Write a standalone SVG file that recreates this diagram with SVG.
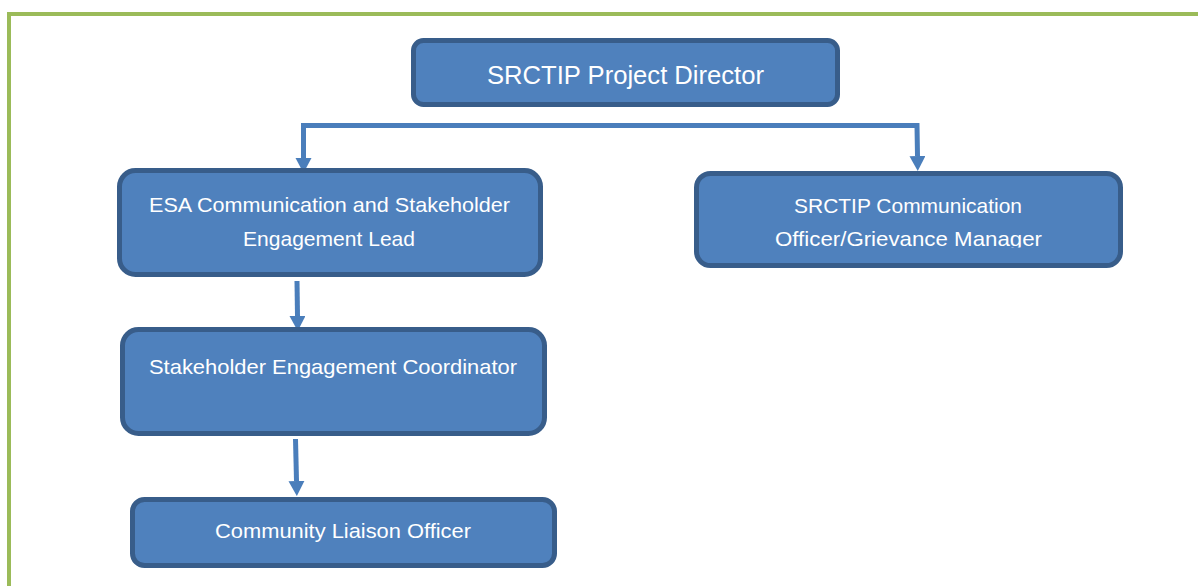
<svg xmlns="http://www.w3.org/2000/svg" width="1198" height="586" viewBox="0 0 1198 586">
<style>
.box{fill:#4F81BD;stroke:#385D8A;stroke-width:5}
.lbl{fill:#FFFFFF;font-family:"Liberation Sans",Arial,sans-serif;font-size:21px;text-anchor:middle}
.conn{stroke:#4A7EBB;stroke-width:5;fill:none}
</style>
<defs>
<marker id="ah" markerUnits="userSpaceOnUse" markerWidth="18" markerHeight="18" refX="0" refY="8" orient="auto">
<path d="M0,0 L15,8 L0,16 Z" fill="#4A7EBB"/>
</marker>
<clipPath id="clip3"><rect x="690" y="160" width="440" height="87.5"/></clipPath>
</defs>
<rect x="9" y="14" width="1300" height="700" fill="none" stroke="#9BBB59" stroke-width="4"/>
<g id="connectors">
<polyline class="conn" points="303.5,158 303.5,125.5 917,125.5 917.5,156" marker-end="url(#ah)"/>
<line class="conn" x1="303.5" y1="125.5" x2="303.5" y2="158" marker-end="url(#ah)"/>
<line class="conn" x1="297" y1="281" x2="297.5" y2="316" marker-end="url(#ah)"/>
<line class="conn" x1="295.5" y1="439" x2="296.5" y2="481" marker-end="url(#ah)"/>
</g>
<g id="node-director">
<rect class="box" x="413.5" y="40.5" width="424" height="64" rx="10"/>
<text class="lbl" x="625.5" y="83.5" style="font-size:25px" textLength="277" lengthAdjust="spacingAndGlyphs">SRCTIP Project Director</text>
</g>
<g id="node-esa">
<rect class="box" x="119.5" y="170.5" width="421" height="104" rx="16"/>
<text class="lbl" x="329.5" y="212" textLength="361" lengthAdjust="spacingAndGlyphs">ESA Communication and Stakeholder</text>
<text class="lbl" x="329" y="246" textLength="172" lengthAdjust="spacingAndGlyphs">Engagement Lead</text>
</g>
<g id="node-comm">
<rect class="box" x="696.5" y="173.5" width="424" height="92" rx="14"/>
<text class="lbl" x="908" y="213" textLength="228" lengthAdjust="spacingAndGlyphs">SRCTIP Communication</text>
<text class="lbl" x="908.5" y="246" textLength="267" lengthAdjust="spacingAndGlyphs" clip-path="url(#clip3)">Officer/Grievance Manager</text>
</g>
<g id="node-coordinator">
<rect class="box" x="122.5" y="329.5" width="422" height="104" rx="16"/>
<text class="lbl" x="333" y="374" textLength="368" lengthAdjust="spacingAndGlyphs">Stakeholder Engagement Coordinator</text>
</g>
<g id="node-clo">
<rect class="box" x="132.5" y="499.5" width="422" height="66" rx="12"/>
<text class="lbl" x="343" y="538" textLength="256" lengthAdjust="spacingAndGlyphs">Community Liaison Officer</text>
</g>
</svg>
